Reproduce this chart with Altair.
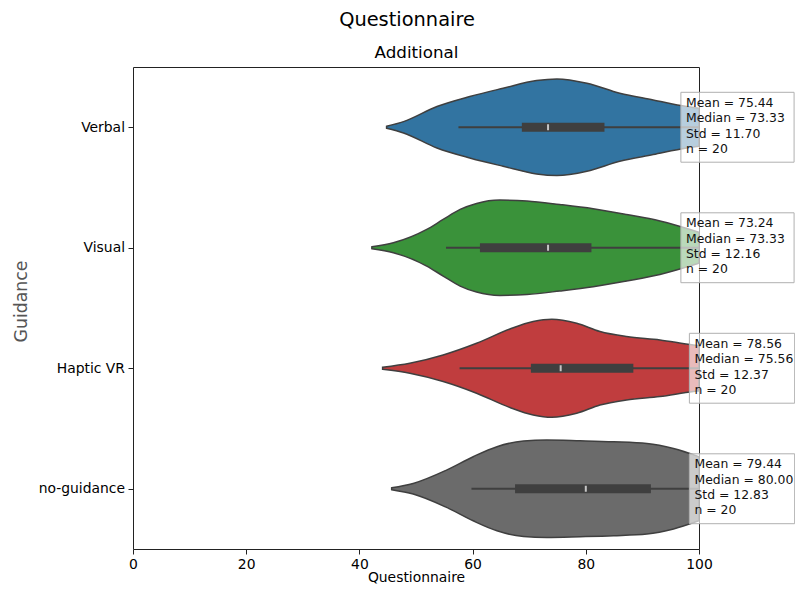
import altair as alt
import pandas as pd

categories = ["Verbal", "Visual", "Haptic VR", "no-guidance"]
colors = ["#3274a1", "#3a923a", "#c03d3e", "#6b6b6b"]

# violin outlines: score positions and half-widths (fraction of row spacing)
verbal_x = [44.8, 47.8, 53.7, 59.5, 65.4, 71.3, 74.9, 80.2, 86.0, 91.9, 97.8, 100.0]
verbal_w = [0.008, 0.047, 0.172, 0.255, 0.324, 0.388, 0.401, 0.365, 0.282, 0.227, 0.172, 0.158]
visual_x = [42.2, 46.0, 51.9, 54.8, 57.8, 60.7, 64.8, 69.6, 75.4, 81.3, 87.2, 93.1, 100.0]
visual_w = [0.008, 0.041, 0.152, 0.235, 0.318, 0.368, 0.396, 0.388, 0.359, 0.324, 0.276, 0.222, 0.129]
haptic_x = [44.1, 48.9, 54.8, 60.7, 66.6, 70.7, 74.0, 78.4, 82.5, 87.2, 93.1, 99.0, 100.0]
haptic_w = [0.008, 0.041, 0.110, 0.207, 0.326, 0.388, 0.407, 0.373, 0.305, 0.263, 0.235, 0.193, 0.188]
noguid_x = [45.7, 49.5, 55.4, 60.1, 64.3, 69.0, 73.1, 79.0, 84.9, 90.8, 95.5, 100.0]
noguid_w = [0.008, 0.044, 0.155, 0.266, 0.349, 0.396, 0.404, 0.398, 0.390, 0.376, 0.334, 0.266]
profiles = [(verbal_x, verbal_w), (visual_x, visual_w), (haptic_x, haptic_w), (noguid_x, noguid_w)]

# inner box plot
q1 = [68.7, 61.3, 70.3, 67.5]
q3 = [83.3, 81.0, 88.4, 91.5]
medians = [73.33, 73.33, 75.56, 80.00]
whisker_lo = [57.5, 55.3, 57.7, 59.8]
whisker_hi = [100.0, 100.0, 100.0, 100.0]

# stats annotations
means = [75.44, 73.24, 78.56, 79.44]
stds = [11.70, 12.16, 12.37, 12.83]
counts = [20, 20, 20, 20]
label_x = [97.7, 97.7, 99.2, 99.2]
box_left = [96.8, 96.8, 98.3, 98.3]
box_right = [116.8, 116.8, 116.9, 116.9]
box_half = 0.29

x_ticks = [0, 20, 40, 60, 80, 100]

FONT = "DejaVu Sans"

rows = []
for i, (cat, (xs, ws)) in enumerate(zip(categories, profiles)):
    for xv, wv in zip(xs, ws):
        rows.append({"cat": cat, "idx": i, "x": xv, "lo": i - wv, "hi": i + wv})
violin_df = pd.DataFrame(rows)

stats_df = pd.DataFrame({
    "cat": categories,
    "idx": list(range(len(categories))),
    "q1": q1, "q3": q3, "med": medians, "wlo": whisker_lo, "whi": whisker_hi,
    "tx": label_x, "bl": box_left, "br": box_right,
    "blo": [i - box_half for i in range(len(categories))],
    "bhi": [i + box_half for i in range(len(categories))],
    "label": [f"Mean = {m:.2f}\nMedian = {md:.2f}\nStd = {s:.2f}\nn = {n}"
              for m, md, s, n in zip(means, medians, stds, counts)],
})

x_scale = alt.Scale(domain=[0, 100], nice=False, zero=False)
y_scale = alt.Scale(domain=[-0.5, len(categories) - 0.5], reverse=True, nice=False, zero=False)
label_expr = "[" + ",".join(f"'{c}'" for c in categories) + "][datum.value]"

x_axis = alt.Axis(values=x_ticks, title="Questionnaire", grid=False, domain=False,
                  tickSize=5, tickColor="#222", labelPadding=3.5, labelFontSize=13.9,
                  labelColor="#000", labelFont=FONT, titleFont=FONT, titleFontSize=13.9,
                  titleFontWeight="normal", titleColor="#000", titlePadding=-1,
                  labelFlush=False)
y_axis = alt.Axis(values=list(range(len(categories))), labelExpr=label_expr, title="Guidance",
                  grid=False, domain=False, tickSize=5, tickColor="#222", labelPadding=3.5,
                  labelFontSize=13.9, labelColor="#000", labelFont=FONT, titleFont=FONT,
                  titleFontSize=17.3, titleFontWeight="normal", titleColor="#555",
                  titleAngle=270, titleX=-112, titleY=234, titleAlign="center",
                  titleBaseline="middle", labelFlush=False)

violins = alt.Chart(violin_df).mark_area(
    orient="vertical", interpolate="monotone", stroke="#3f3f3f", strokeWidth=1.5,
    opacity=1, clip=True
).encode(
    x=alt.X("x:Q", scale=x_scale, axis=x_axis),
    y=alt.Y("lo:Q", scale=y_scale, axis=y_axis),
    y2="hi:Q",
    color=alt.Color("cat:N", scale=alt.Scale(domain=categories, range=colors), legend=None),
    detail="cat:N",
)

whiskers = alt.Chart(stats_df).mark_rule(color="#3f3f3f", strokeWidth=2, clip=True).encode(
    x=alt.X("wlo:Q", scale=x_scale, axis=None), x2="whi:Q",
    y=alt.Y("idx:Q", scale=y_scale, axis=y_axis),
)
iqr = alt.Chart(stats_df).mark_rule(color="#3f3f3f", strokeWidth=9, strokeCap="butt").encode(
    x=alt.X("q1:Q", scale=x_scale, axis=None), x2="q3:Q",
    y=alt.Y("idx:Q", scale=y_scale, axis=y_axis),
)
med_tick = alt.Chart(stats_df).mark_tick(orient="vertical", size=6, thickness=2, color="white").encode(
    x=alt.X("med:Q", scale=x_scale, axis=None),
    y=alt.Y("idx:Q", scale=y_scale, axis=y_axis),
)
boxes = alt.Chart(stats_df).mark_rect(
    fill="white", fillOpacity=0.65, stroke="#b0b0b0", strokeWidth=1, clip=False
).encode(
    x=alt.X("bl:Q", scale=x_scale,
            axis=alt.Axis(orient="top", title="Additional", labels=False, ticks=False,
                          domain=False, grid=False, titleFont=FONT, titleFontSize=16.7,
                          titleFontWeight="normal", titleColor="#000", titlePadding=6)),
    x2="br:Q",
    y=alt.Y("blo:Q", scale=y_scale, axis=y_axis), y2="bhi:Q",
)
texts = alt.Chart(stats_df).mark_text(
    align="left", baseline="middle", lineBreak="\n", lineHeight=15.4, fontSize=12.4,
    font=FONT, color="#111", dy=-24.5, clip=False
).encode(
    x=alt.X("tx:Q", scale=x_scale, axis=None),
    y=alt.Y("idx:Q", scale=y_scale, axis=y_axis),
    text="label:N",
)

chart = alt.layer(violins, whiskers, iqr, med_tick, boxes, texts).resolve_axis(
    x="independent"
).properties(
    width=566, height=482,
    autosize=alt.AutoSizeParams(type="none"),
    padding={"left": 125, "top": 59, "right": 96, "bottom": 36},
    title=alt.TitleParams("Questionnaire", font=FONT, fontSize=19.4, fontWeight="normal",
                          color="#000", anchor="middle", dx=-9, offset=14),
).configure(background="white").configure_view(stroke="#222", strokeWidth=1)

chart.save("out.html", embed_options={"renderer": "svg", "actions": False})
